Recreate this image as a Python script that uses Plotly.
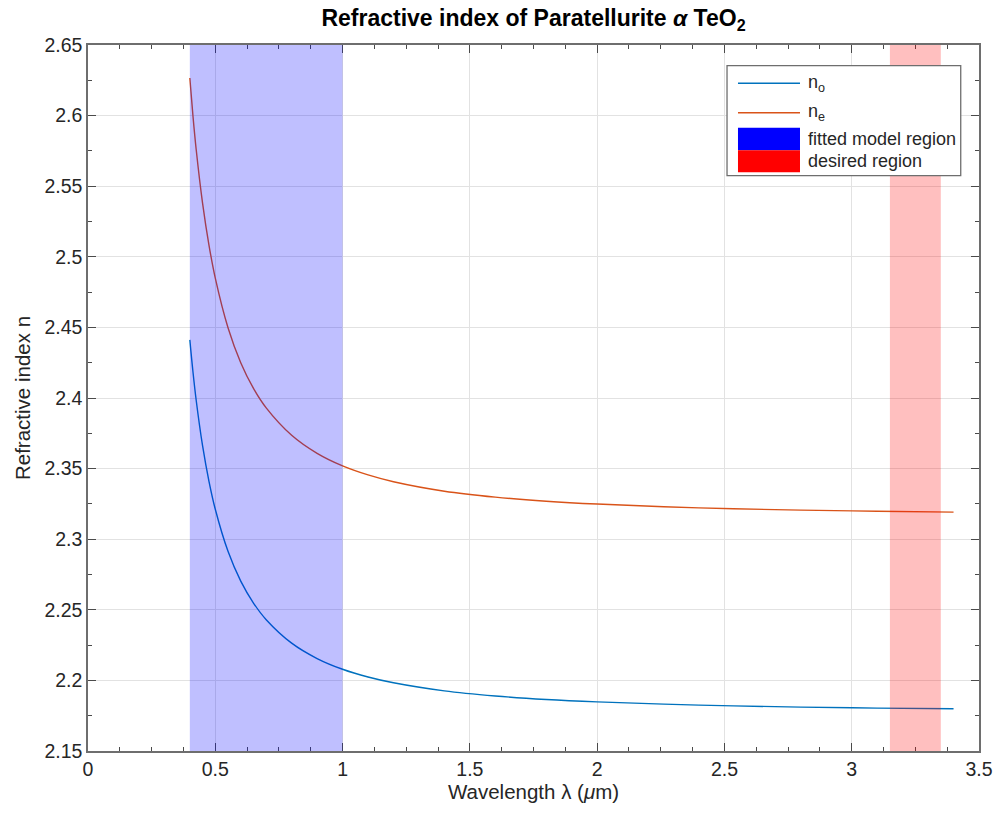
import plotly.graph_objects as go

# Refractive index of paratellurite (alpha-TeO2), ordinary and extraordinary rays
wavelength_um = [0.4, 0.4125, 0.425, 0.45, 0.475, 0.5, 0.55, 0.6, 0.65, 0.7,
                 0.8, 0.9, 1.0, 1.1, 1.2, 1.4, 1.6, 1.8, 2.0, 2.4, 2.8, 3.1, 3.4]
n_o = [2.4412, 2.4182, 2.3984, 2.3662, 2.3412, 2.3212, 2.2914, 2.2703, 2.2548, 2.2430,
       2.2264, 2.2155, 2.2079, 2.2024, 2.1983, 2.1926, 2.1890, 2.1865, 2.1848, 2.1825,
       2.1811, 2.1804, 2.1799]
n_e = [2.6266, 2.5994, 2.5760, 2.5380, 2.5085, 2.4849, 2.4498, 2.4250, 2.4068, 2.3930,
       2.3736, 2.3608, 2.3519, 2.3455, 2.3407, 2.3340, 2.3298, 2.3269, 2.3249, 2.3222,
       2.3206, 2.3198, 2.3192]

fitted_region = [0.4, 1.0]
desired_region = [3.15, 3.35]

x_ticks = [0, 0.5, 1, 1.5, 2, 2.5, 3, 3.5]
y_ticks = [2.15, 2.2, 2.25, 2.3, 2.35, 2.4, 2.45, 2.5, 2.55, 2.6, 2.65]

BLUE = "#0072BD"
ORANGE = "#D95319"
AXIS_TXT = "#262626"
FONT = "Liberation Sans, Arial, sans-serif"

fig = go.Figure()
fig.add_trace(go.Scatter(x=wavelength_um, y=n_o, mode="lines", line=dict(color=BLUE, width=1.4, shape="spline"),
                         name="n<sub>o</sub>", showlegend=False))
fig.add_trace(go.Scatter(x=wavelength_um, y=n_e, mode="lines", line=dict(color=ORANGE, width=1.4, shape="spline"),
                         name="n<sub>e</sub>", showlegend=False))

# shaded wavelength bands, drawn over the curves with transparency
fig.add_vrect(x0=fitted_region[0], x1=fitted_region[1], fillcolor="blue", opacity=0.25,
              line_width=0, layer="above")
fig.add_vrect(x0=desired_region[0], x1=desired_region[1], fillcolor="red", opacity=0.25,
              line_width=0, layer="above")

# boxed legend in the upper right corner
lx0, lx1, ly0, ly1 = 0.7172, 0.9795, 0.8149, 0.9707
sx0, sx1 = 0.7295, 0.7991
fig.add_shape(type="rect", xref="paper", yref="paper", x0=lx0, x1=lx1, y0=ly0, y1=ly1,
              fillcolor="white", line=dict(color="#6e6e6e", width=1.3), layer="above")
legend_rows = [
    ("line", BLUE, 0.9457, "n<sub>o</sub>"),
    ("line", ORANGE, 0.9040, "n<sub>e</sub>"),
    ("rect", "blue", (0.8510, 0.8829), "fitted model region"),
    ("rect", "red", (0.8197, 0.8510), "desired region"),
]
for kind, color, ypos, label in legend_rows:
    if kind == "line":
        fig.add_shape(type="line", xref="paper", yref="paper", x0=sx0, x1=sx1, y0=ypos, y1=ypos,
                      line=dict(color=color, width=1.5), layer="above")
        yc = ypos
    else:
        fig.add_shape(type="rect", xref="paper", yref="paper", x0=sx0, x1=sx1, y0=ypos[0], y1=ypos[1],
                      fillcolor=color, line=dict(width=0), layer="above")
        yc = (ypos[0] + ypos[1]) / 2
    fig.add_annotation(xref="paper", yref="paper", x=0.8058, y=yc, text=label, showarrow=False,
                       xanchor="left", yanchor="middle", font=dict(family=FONT, size=18, color=AXIS_TXT))

axis_common = dict(
    showgrid=True, gridcolor="#e2e2e2", gridwidth=1,
    showline=True, linecolor="#6e6e6e", linewidth=1.5, mirror="ticks",
    ticks="inside", ticklen=8, tickcolor="#4a4a4a", tickwidth=1.2,
    zeroline=False, automargin=False,
    tickfont=dict(family=FONT, size=19.5, color=AXIS_TXT),
)

fig.update_layout(
    width=999, height=817,
    margin=dict(l=88, r=20, t=45, b=66, autoexpand=False),
    paper_bgcolor="white", plot_bgcolor="white",
    title=dict(text="<b>Refractive index of Paratellurite <i>α</i> TeO<sub>2</sub></b>",
               x=0.5, xref="paper", y=1 - 18 / 817, yref="container", yanchor="middle",
               font=dict(family=FONT, size=23, color="black")),
    xaxis=dict(range=[0, 3.5], tickvals=x_ticks,
               minor=dict(dtick=0.125, tick0=0, ticks="inside", ticklen=4, tickcolor="#4a4a4a", showgrid=False),
               title=dict(text="Wavelength λ (<i>μ</i>m)", standoff=4,
                          font=dict(family=FONT, size=20.5, color=AXIS_TXT)),
               **axis_common),
    yaxis=dict(range=[2.15, 2.65], tickvals=y_ticks,
               minor=dict(dtick=0.025, tick0=2.15, ticks="inside", ticklen=4, tickcolor="#4a4a4a", showgrid=False),
               title=dict(text="Refractive index n", standoff=8,
                          font=dict(family=FONT, size=20.5, color=AXIS_TXT)),
               **axis_common),
)

fig.write_html("out.html")
